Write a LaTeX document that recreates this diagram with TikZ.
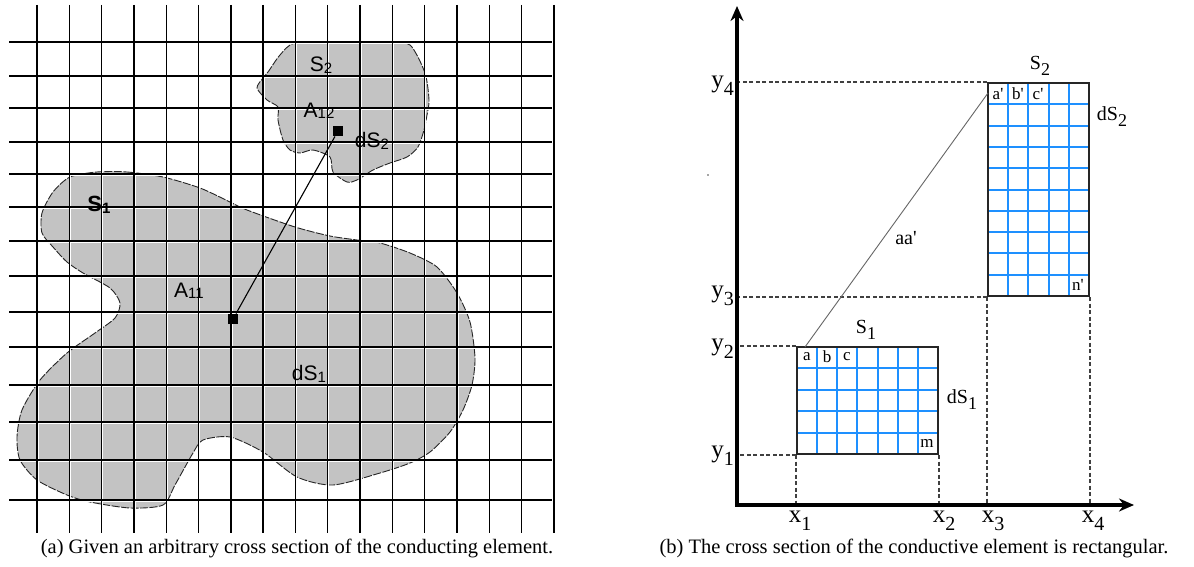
\documentclass[tikz,border=0pt]{standalone}
\usepackage{fontspec}
\setmainfont{Liberation Serif}
\newfontfamily\arialf{Liberation Sans}
\usetikzlibrary{arrows.meta}
\definecolor{blobgray}{RGB}{195,195,195}
\definecolor{gridblue}{RGB}{30,144,255}
\newcommand\lsub[2]{#1\raisebox{-1.5pt}{\fontsize{15}{15}\selectfont #2}}
\newcommand\rsub[3]{#1\raisebox{-0.3em}{\fontsize{#3}{#3}\selectfont #2}}
\newcommand\pr{\textquotesingle}
\begin{document}
\begin{tikzpicture}[x=1pt,y=-1pt,
  gline/.style={line width=1.4pt,black},
  ghalo/.style={line width=1pt,white},
  blob/.style={fill=blobgray,draw=black!85,line width=0.9pt,dash pattern=on 8pt off 1.5pt},
  llbl/.style={font=\arialf\fontsize{21}{21}\selectfont,inner sep=0pt},
  rlbl/.style={font=\fontsize{20}{20}\selectfont,inner sep=0pt},
  axlbl/.style={font=\fontsize{25}{25}\selectfont,inner sep=0pt},
  cell/.style={font=\fontsize{17}{17}\selectfont,inner sep=0pt},
  captxt/.style={font=\fontsize{20.5}{20.5}\selectfont,inner sep=0pt},
  dashln/.style={black!75,line width=1.1pt,dash pattern=on 4pt off 2.5pt},
  bgrid/.style={gridblue,line width=2pt},
  rectbox/.style={draw=black!85,line width=2pt,inner sep=0pt,minimum width=#1},
  sq/.style={fill=black,minimum size=10.5pt,inner sep=0pt}
]
\useasboundingbox (0,0) rectangle (1194,567);
\fill[white] (0,0) rectangle (1194,567);

% ---------------- panel (a) ----------------
\draw[blob] plot[smooth cycle,tension=0.45] coordinates {
 (97,172) (127,172) (163,177) (200,188) (230,202) (247,210) (295,227) (330,236) (357,240)
 (380,243) (410,253) (437,267) (457,293) (470,322) (475,358) (472,385) (463,410) (450,432)
 (430,452) (410,463) (380,473) (333,485) (297,477) (263,452) (230,437) (203,440) (193,453)
 (175,485) (163,505) (130,508) (90,502) (67,495) (37,480) (20,460) (17,437) (22,410)
 (40,380) (67,353) (95,333) (115,318) (120,303) (110,288) (83,273) (67,262) (53,247)
 (42,233) (42,213) (53,192) (70,177)};
\draw[blob] plot[smooth cycle,tension=0.45] coordinates {
 (295,43) (340,42) (387,42) (410,45) (425,73) (429,100) (427,115) (424,130) (418,147)
 (407,157) (390,163) (373,170) (357,180) (347,182) (333,172) (330,157) (313,150) (300,153)
 (290,150) (283,140) (278,120) (278,107) (267,100) (257,88) (263,78) (268,72) (280,55)};

\foreach \k in {0,...,16}{\draw[ghalo] (37+32.3*\k+1.2,5) -- (37+32.3*\k+1.2,533);}
\foreach \yy in {42,76,108,142,174,207,241,276,312,347,385,422,460,500}{\draw[ghalo] (9,\yy+1.2) -- (552,\yy+1.2);}
\foreach \k in {0,...,16}{\draw[gline] (37+32.3*\k,5) -- (37+32.3*\k,533);}
\foreach \yy in {42,76,108,142,174,207,241,276,312,347,385,422,460,500}{\draw[gline] (9,\yy) -- (552,\yy);}

\node[sq] (p1) at (233,319) {};
\node[sq] (p2) at (338,131) {};
\draw[line width=1.1pt] (p1) -- (p2);

\node[llbl,font=\arialf\bfseries\fontsize{22}{22}\selectfont] (s1) at (99,205) {\lsub{S}{1}};
\node[llbl] (s2) at (321,65) {\lsub{S}{2}};
\node[llbl] (a12) at (319,111) {\lsub{A}{12}};
\node[llbl] (ds2) at (372,141) {\lsub{dS}{2}};
\node[llbl] (a11) at (189,291) {\lsub{A}{11}};
\node[llbl] (ds1) at (309,374) {\lsub{dS}{1}};

\node[captxt] (capa) at (297,548) {(a) Given an arbitrary cross section of the conducting element.};

% ---------------- panel (b) ----------------
\coordinate (O) at (737,505);
\coordinate (ytip) at (737,6);
\coordinate (xtip) at (1134,505);

\foreach \k in {1,...,6}{\draw[bgrid] (797+20.14*\k,347) -- (797+20.14*\k,454);}
\foreach \k in {1,...,4}{\draw[bgrid] (797,347+21.4*\k) -- (938,347+21.4*\k);}
\foreach \k in {1,...,4}{\draw[bgrid] (988+20.2*\k,83) -- (988+20.2*\k,296);}
\foreach \k in {1,...,9}{\draw[bgrid] (988,83+21.3*\k) -- (1089,83+21.3*\k);}

\node[rectbox=141pt,minimum height=107pt] (R1) at (867.5,400.5) {};
\node[rectbox=101pt,minimum height=213pt] (R2) at (1038.5,189.5) {};

\draw[dashln] (R2.north west) -- (O |- R2.north west);
\draw[dashln] (R2.south west) -- (O |- R2.south west);
\draw[dashln] (R1.north west) -- (O |- R1.north west);
\draw[dashln] (R1.south west) -- (O |- R1.south west);
\draw[dashln] (R1.south west) -- (R1.south west |- O);
\draw[dashln] (R1.south east) -- (R1.south east |- O);
\draw[dashln] (R2.south west) -- (R2.south west |- O);
\draw[dashln] (R2.south east) -- (R2.south east |- O);

\draw[line width=3.4pt,line join=miter,{Stealth[length=15pt,width=13pt]}-{Stealth[length=15pt,width=13pt]}] (ytip) -- (O) -- (xtip);

\coordinate (la) at (805,347);
\coordinate (la2) at (988,93);
\draw[black!60,line width=0.9pt] (la) -- (la2);
\node[rlbl,font=\fontsize{20}{20}\selectfont] (aa) at (906,238) {aa\pr};

\fill[black!70] (708,175) circle (0.9pt);

\node[cell] (ca) at (807,357) {a};
\node[cell] (cb) at (827,357) {b};
\node[cell] (cc) at (847,357) {c};
\node[cell] (cm) at (927,443) {m};
\node[cell] (ca2) at (998,94) {a\pr};
\node[cell] (cb2) at (1018,94) {b\pr};
\node[cell] (cc2) at (1038,94) {c\pr};
\node[cell] (cn2) at (1078,285) {n\pr};

\node[rlbl] (S1r) at (866,330) {\rsub{S}{1}{18}};
\node[rlbl] (dS1r) at (962,400) {\rsub{dS}{1}{18}};
\node[rlbl] (S2r) at (1040,66) {\rsub{S}{2}{18}};
\node[rlbl] (dS2r) at (1112,117) {\rsub{dS}{2}{18}};

\node[axlbl,anchor=east] (y4) at (734,86) {\rsub{y}{4}{20}};
\node[axlbl,anchor=east] (y3) at (734,296) {\rsub{y}{3}{20}};
\node[axlbl,anchor=east] (y2) at (734,349) {\rsub{y}{2}{20}};
\node[axlbl,anchor=east] (y1) at (734,456) {\rsub{y}{1}{20}};

\node[axlbl,anchor=north] (x1) at (800,511) {\rsub{x}{1}{20}};
\node[axlbl,anchor=north] (x2) at (944,511) {\rsub{x}{2}{20}};
\node[axlbl,anchor=north] (x3) at (993,511) {\rsub{x}{3}{20}};
\node[axlbl,anchor=north] (x4) at (1093,511) {\rsub{x}{4}{20}};

\node[captxt] (capb) at (914,548) {(b) The cross section of the conductive element is rectangular.};
\end{tikzpicture}
\end{document}
